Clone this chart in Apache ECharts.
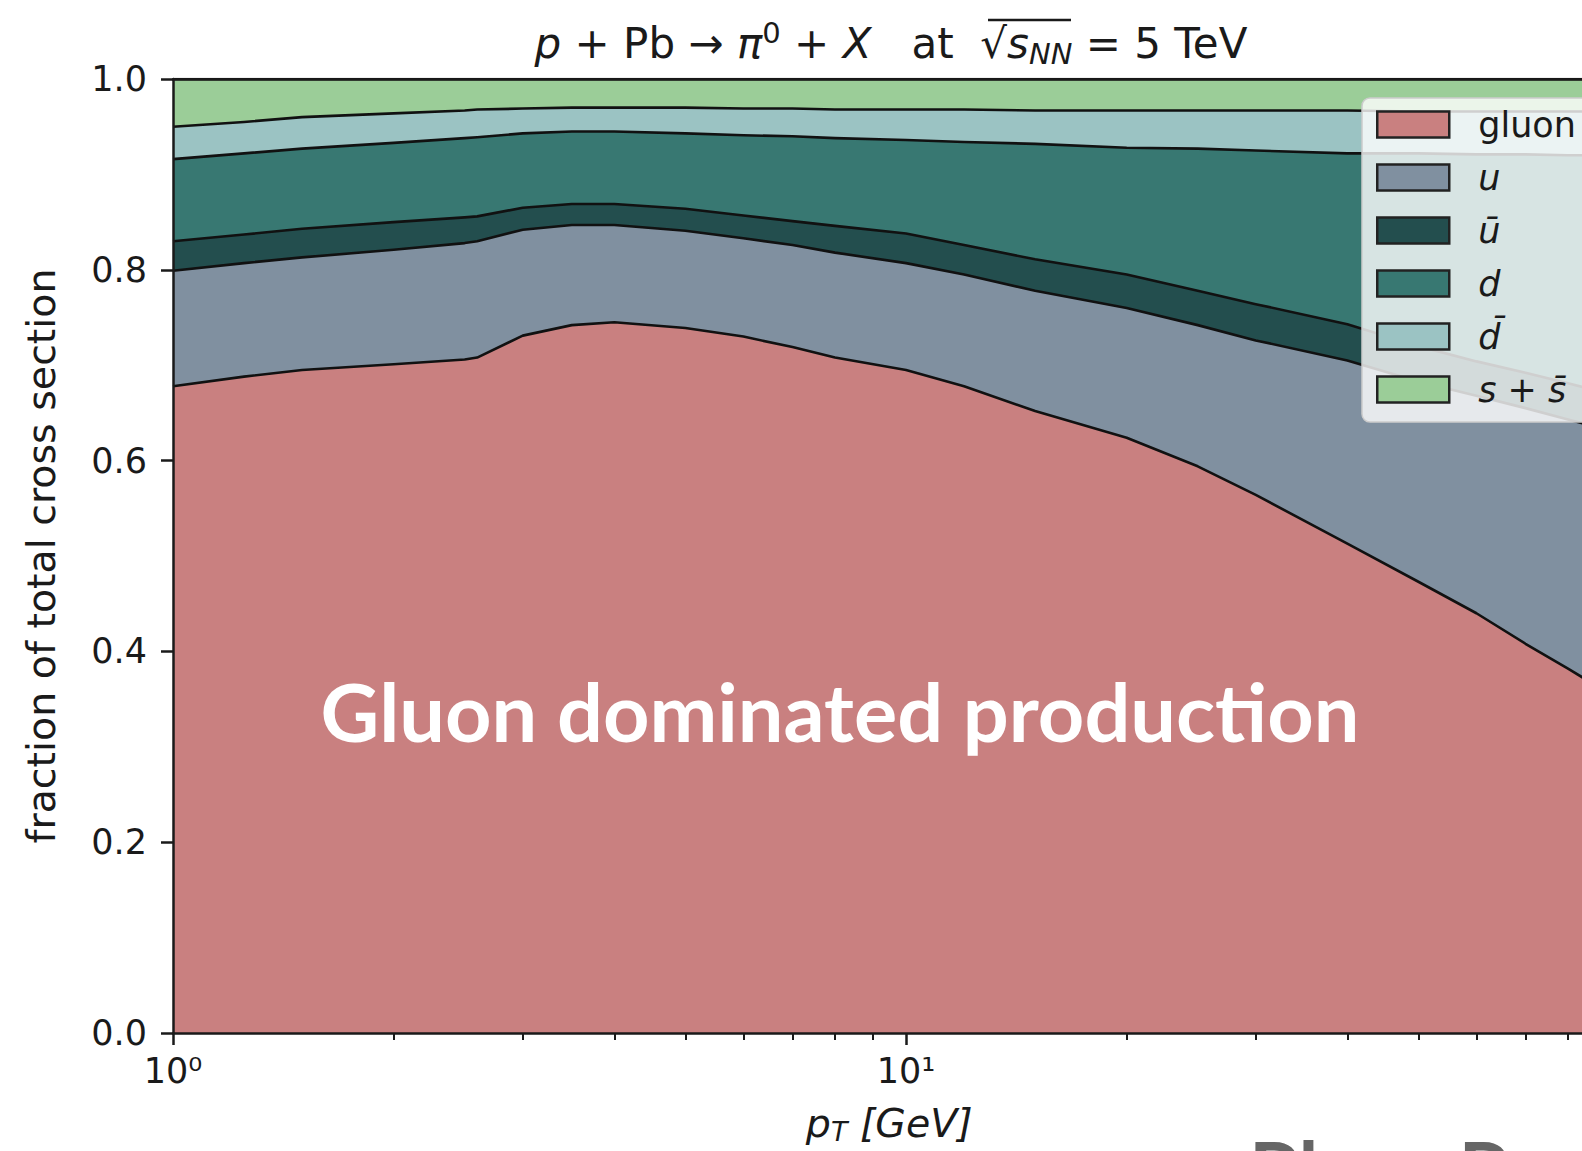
<!DOCTYPE html>
<html>
<head>
<meta charset="utf-8">
<script src="https://cdn.jsdelivr.net/npm/echarts@6/dist/echarts.min.js"></script>
<style>
  html, body { margin: 0; padding: 0; background: #ffffff; overflow: hidden; }
  #chart { width: 1582px; height: 1151px; }
</style>
</head>
<body>
<div id="chart"></div>
<script>
// Transverse momentum grid (GeV)
const pT = [1, 1.25, 1.5, 2, 2.5, 2.6, 3, 3.5, 4, 5, 6, 7, 8, 10, 12, 15, 20, 25, 30, 40, 50, 60, 70, 80, 90];

// Fraction of the pi0 cross section per initial-state parton
const gluonFrac = [0.678, 0.688, 0.695, 0.701, 0.706, 0.708, 0.731, 0.742, 0.745, 0.739, 0.730, 0.719, 0.708, 0.695, 0.678, 0.652, 0.624, 0.594, 0.564, 0.513, 0.473, 0.440, 0.408, 0.382, 0.358];
const uFrac     = [0.121, 0.119, 0.118, 0.120, 0.122, 0.122, 0.111, 0.105, 0.102, 0.102, 0.103, 0.107, 0.110, 0.112, 0.117, 0.126, 0.136, 0.148, 0.162, 0.192, 0.210, 0.228, 0.247, 0.261, 0.275];
const ubarFrac  = [0.031, 0.030, 0.030, 0.029, 0.027, 0.026, 0.023, 0.022, 0.022, 0.023, 0.024, 0.025, 0.028, 0.031, 0.031, 0.033, 0.035, 0.036, 0.038, 0.038, 0.037, 0.036, 0.037, 0.038, 0.038];
const dFrac     = [0.086, 0.085, 0.084, 0.083, 0.083, 0.083, 0.078, 0.076, 0.076, 0.079, 0.084, 0.089, 0.092, 0.098, 0.108, 0.121, 0.133, 0.149, 0.161, 0.179, 0.202, 0.217, 0.229, 0.239, 0.249];
const dbarFrac  = [0.034, 0.033, 0.033, 0.031, 0.029, 0.029, 0.026, 0.025, 0.025, 0.027, 0.028, 0.029, 0.030, 0.032, 0.034, 0.035, 0.039, 0.040, 0.042, 0.045, 0.044, 0.045, 0.045, 0.046, 0.046];
const sFrac     = [0.050, 0.045, 0.040, 0.036, 0.033, 0.032, 0.031, 0.030, 0.030, 0.030, 0.031, 0.031, 0.032, 0.032, 0.032, 0.033, 0.033, 0.033, 0.033, 0.033, 0.034, 0.034, 0.034, 0.034, 0.034];

// Axis ticks
const xMajorTicks = [1, 10];
const xMinorTicks = [2, 3, 4, 5, 6, 7, 8, 9, 20, 30, 40, 50, 60, 70, 80];
const yTicks = [0, 0.2, 0.4, 0.6, 0.8, 1.0];

const FONT = "'DejaVu Sans', sans-serif";
const SLIDE_FONT = "Lato, 'Open Sans', sans-serif";
const INK = '#1a1a1a';

// Bottom-to-top stacking order
const layers = [
  { name: 'gluon', label: 'gluon',           values: gluonFrac, color: '#c98080' },
  { name: 'u',     label: '{it|u}',          values: uFrac,     color: '#8090a0' },
  { name: 'ubar',  label: '{it|ū}',          values: ubarFrac,  color: '#234e4e' },
  { name: 'd',     label: '{it|d}',          values: dFrac,     color: '#387872' },
  { name: 'dbar',  label: '{it|d̄}',          values: dbarFrac,  color: '#9bc3c3' },
  { name: 's',     label: '{it|s} + {it|s̄}', values: sFrac,     color: '#9bcd98' }
];
const legendLabel = {};
layers.forEach(l => { legendLabel[l.name] = l.label; });

// Running totals: upper edge of each band
let running = pT.map(() => 0);
const upperEdges = layers.map(l => {
  running = running.map((v, k) => v + l.values[k]);
  return running.slice();
});

const supDigits = { '0': '⁰', '1': '¹', '2': '²' };

const chart = echarts.init(document.getElementById('chart'), null, { renderer: 'svg', width: 1582, height: 1151 });

// Bands are painted top-down, each filled to the baseline, so lower bands overlay upper ones
const bandSeries = layers.map((l, i) => ({ l, i })).reverse().map(({ l, i }) => ({
  name: l.name,
  type: 'line',
  xAxisIndex: 0,
  z: 2,
  data: pT.map((x, k) => [x, upperEdges[i][k]]),
  showSymbol: false, symbol: 'none', silent: true, smooth: false,
  lineStyle: { color: '#111111', width: 2.6, join: 'round' },
  itemStyle: { color: l.color, borderColor: '#222222', borderWidth: 2.5 },
  areaStyle: { color: l.color, opacity: 1, origin: 'start' },
  emphasis: { disabled: true }
}));

const option = {
  animation: false,
  backgroundColor: '#ffffff',
  grid: { left: 173, top: 79, width: 1432.5, height: 954, containLabel: false, outerBoundsMode: 'none' },
  xAxis: [
    {
      type: 'log', logBase: 10, min: 1, max: 90, position: 'bottom', z: 10,
      axisLine: { show: true, onZero: false, lineStyle: { color: INK, width: 2.5 } },
      axisTick: { show: true, length: 12, customValues: xMajorTicks, lineStyle: { color: INK, width: 2.5 } },
      minorTick: { show: false },
      splitLine: { show: false },
      axisLabel: {
        customValues: xMajorTicks, margin: 20, color: INK, fontFamily: FONT, fontSize: 35,
        formatter: v => '10' + supDigits[String(Math.round(Math.log10(v)))]
      },
      name: '{it|p}{sub|T} {it|[GeV]}',
      nameLocation: 'middle', nameGap: 68,
      nameTextStyle: {
        color: INK, fontFamily: FONT, fontSize: 39.5, lineHeight: 44,
        rich: {
          it: { fontFamily: FONT, fontStyle: 'italic', fontSize: 39.5, color: INK, lineHeight: 44 },
          sub: { fontFamily: FONT, fontStyle: 'italic', fontSize: 27, color: INK, verticalAlign: 'bottom', lineHeight: 22 }
        }
      }
    },
    {
      type: 'log', logBase: 10, min: 1, max: 90, position: 'bottom', z: 10,
      axisLine: { show: false },
      axisTick: { show: true, length: 7, customValues: xMinorTicks, lineStyle: { color: INK, width: 2 } },
      axisLabel: { show: false },
      splitLine: { show: false }
    },
    {
      type: 'value', min: 0, max: 1, position: 'top', z: 10,
      axisLine: { show: true, onZero: false, lineStyle: { color: INK, width: 2.5 } },
      axisTick: { show: false }, axisLabel: { show: false }, splitLine: { show: false }
    }
  ],
  yAxis: {
    type: 'value', min: 0, max: 1, interval: 0.2, z: 10,
    axisLine: { show: true, onZero: false, lineStyle: { color: INK, width: 2.5 } },
    axisTick: { show: true, length: 12, customValues: yTicks, lineStyle: { color: INK, width: 2.5 } },
    splitLine: { show: false },
    axisLabel: {
      customValues: yTicks, margin: 26, color: INK, fontFamily: FONT, fontSize: 35,
      formatter: v => v.toFixed(1)
    },
    name: 'fraction of total cross section',
    nameLocation: 'middle', nameGap: 112, nameRotate: 90,
    nameTextStyle: { color: INK, fontFamily: FONT, fontSize: 39.5 }
  },
  legend: {
    orient: 'vertical', left: 1362, top: 98,
    padding: [9, 14, 15, 14],
    itemWidth: 72, itemHeight: 26, itemGap: 18,
    icon: 'rect', selectedMode: false, z: 20,
    backgroundColor: 'rgba(255,255,255,0.8)',
    borderColor: '#cccccc', borderWidth: 1.5, borderRadius: 8,
    itemStyle: { borderColor: '#222222', borderWidth: 2.5 },
    textStyle: {
      color: INK, fontFamily: FONT, fontSize: 35, lineHeight: 35, padding: [0, 0, 0, 24],
      rich: { it: { fontFamily: FONT, fontStyle: 'italic', fontSize: 35, color: INK } }
    },
    formatter: name => legendLabel[name],
    data: layers.map(l => ({ name: l.name, itemStyle: { color: l.color, borderColor: '#222222', borderWidth: 2.5 } }))
  },
  series: bandSeries,
  graphic: [
    {
      type: 'text', x: 891, y: 43, z: 30, silent: true,
      style: {
        text: '{i|p} + Pb → {i|π}{sup|0} + {i|X}   at  √{i|s}{sub|NN} = 5 TeV',
        align: 'center', verticalAlign: 'middle',
        fontFamily: FONT, fontSize: 42, fill: INK, lineHeight: 50,
        rich: {
          i: { fontFamily: FONT, fontStyle: 'italic', fontSize: 42, fill: INK, lineHeight: 50 },
          sup: { fontFamily: FONT, fontSize: 29, fill: INK, verticalAlign: 'top', lineHeight: 29 },
          sub: { fontFamily: FONT, fontStyle: 'italic', fontSize: 29, fill: INK, verticalAlign: 'bottom', lineHeight: 29 }
        }
      }
    },
    {
      type: 'line', z: 30, silent: true,
      shape: { x1: 988, y1: 20, x2: 1071, y2: 20 },
      style: { stroke: INK, lineWidth: 2.5 }
    },
    {
      type: 'text', x: 840, y: 710, z: 30, silent: true,
      style: {
        text: 'Gluon dominated production',
        align: 'center', verticalAlign: 'middle',
        fontFamily: SLIDE_FONT, fontWeight: 'bold', fontSize: 81, fill: '#ffffff'
      }
    },
    {
      type: 'text', x: 1249, y: 1129, z: 30, silent: true,
      style: {
        text: 'Plans Pro',
        align: 'left', verticalAlign: 'top',
        fontFamily: SLIDE_FONT, fontWeight: 'bold', fontSize: 80, fill: '#666666'
      }
    }
  ]
};

chart.setOption(option);
</script>
</body>
</html>
